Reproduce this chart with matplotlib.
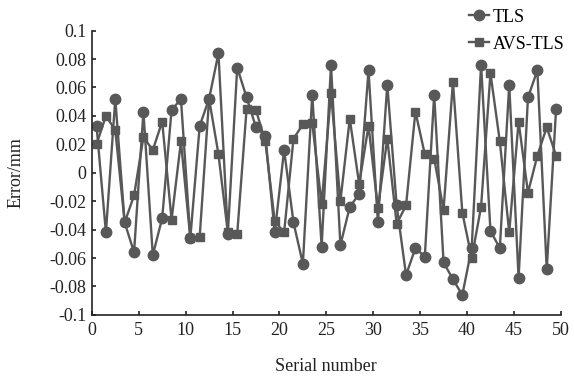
import numpy as np
import matplotlib
matplotlib.use("Agg")
import matplotlib.pyplot as plt
from matplotlib.ticker import FuncFormatter

# serial numbers 1..50, drawn centred half a unit left of each integer
serial = np.arange(1, 51)

tls = [0.033, -0.042, 0.052, -0.035, -0.056, 0.043, -0.058, -0.032, 0.044, 0.052,
       -0.046, 0.033, 0.052, 0.084, -0.043, 0.074, 0.053, 0.032, 0.026, -0.042,
       0.016, -0.035, -0.064, 0.055, -0.052, 0.076, -0.051, -0.024, -0.015, 0.072,
       -0.035, 0.062, -0.023, -0.072, -0.053, -0.059, 0.055, -0.063, -0.075, -0.086,
       -0.053, 0.076, -0.041, -0.053, 0.062, -0.074, 0.053, 0.072, -0.068, 0.045]

avs_tls = [0.020, 0.040, 0.030, -0.035, -0.016, 0.025, 0.016, 0.036, -0.033, 0.022,
           -0.046, -0.045, 0.052, 0.013, -0.042, -0.043, 0.045, 0.044, 0.022, -0.034,
           -0.042, 0.024, 0.034, 0.035, -0.022, 0.056, -0.020, 0.038, -0.008, 0.033,
           -0.025, 0.024, -0.036, -0.023, 0.043, 0.013, 0.010, -0.026, 0.064, -0.028,
           -0.060, -0.024, 0.070, 0.022, -0.042, 0.036, -0.014, 0.012, 0.032, 0.012]

plt.rcParams['font.family'] = ['Liberation Serif', 'DejaVu Serif']
plt.rcParams['font.size'] = 13

grey = '#585858'

fig = plt.figure(figsize=(5.74, 3.78), dpi=100)
ax = fig.add_axes([0.160, 0.167, 0.817, 0.752])

x = serial - 0.5
ax.plot(x, tls, color=grey, lw=1.7, marker='o', ms=7.5, label='TLS')
ax.plot(x, avs_tls, color=grey, lw=1.7, marker='s', ms=6.3, label='AVS-TLS')

ax.set_xlim(0, 50)
ax.set_ylim(-0.1, 0.1)
ax.set_xticks(np.arange(0, 51, 5))
ax.set_yticks(np.arange(-0.1, 0.1001, 0.02))
ax.yaxis.set_major_formatter(FuncFormatter(lambda v, p: '%g' % round(v, 2)))

for s in ['top', 'right']:
    ax.spines[s].set_visible(False)
for s in ['left', 'bottom']:
    ax.spines[s].set_linewidth(1.2)
    ax.spines[s].set_color('#222222')
ax.tick_params(direction='in', length=3, width=1.2, colors='#222222', labelcolor='#222222')
ax.tick_params(axis='x', pad=5)
ax.tick_params(axis='y', pad=4)

ax.set_xlabel('Serial number', fontsize=13, labelpad=14, color='#222222')
ax.set_ylabel('Error/mm', fontsize=13, labelpad=18, color='#222222')

fig.legend(loc='upper right', bbox_to_anchor=(1.012, 1.02), frameon=False,
           handlelength=1.1, handletextpad=0.2, labelspacing=0.55, fontsize=13)

fig.savefig('out.png', dpi=100)
